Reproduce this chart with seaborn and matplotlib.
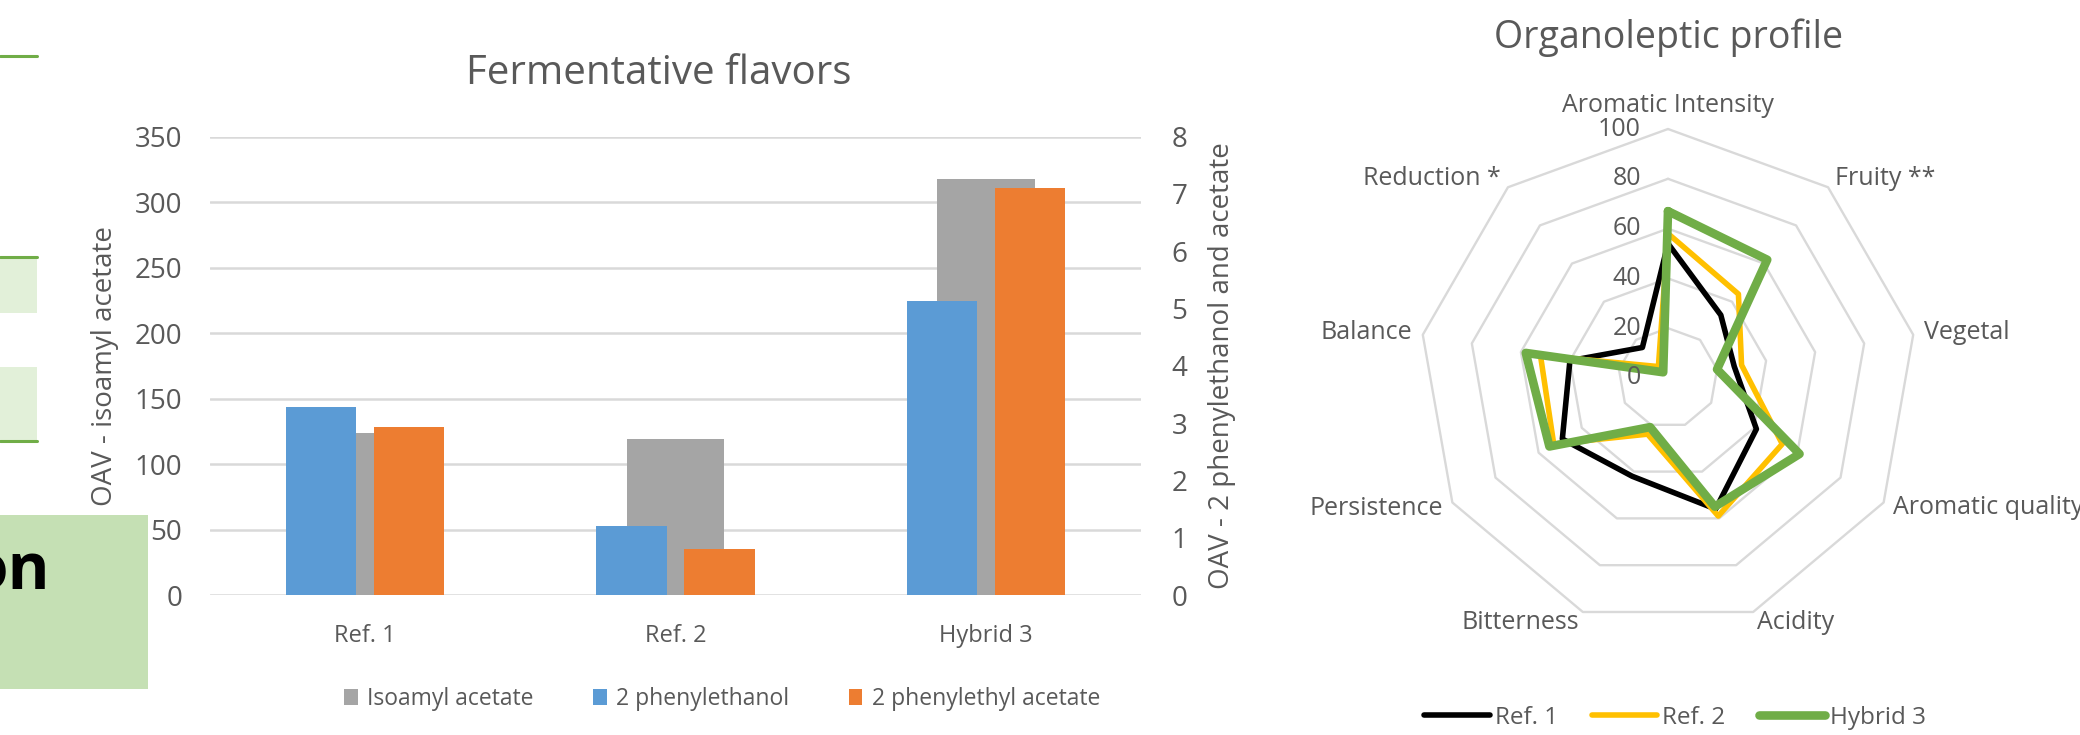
import numpy as np
import pandas as pd
import matplotlib
matplotlib.use("Agg")
import matplotlib.pyplot as plt
import seaborn as sns
from matplotlib.patches import Rectangle, Patch
from matplotlib.lines import Line2D

# ---------------- data ----------------
samples = ["Ref. 1", "Ref. 2", "Hybrid 3"]
isoamyl_acetate = [124, 119, 318]          # left axis
phenylethanol = [3.28, 1.21, 5.13]         # right axis
phenylethyl_acetate = [2.93, 0.80, 7.10]   # right axis
left_ticks = [0, 50, 100, 150, 200, 250, 300, 350]
right_ticks = [0, 1, 2, 3, 4, 5, 6, 7, 8]

attributes = ["Aromatic Intensity", "Fruity **", "Vegetal", "Aromatic quality",
              "Acidity", "Bitterness", "Persistence", "Balance", "Reduction *"]
ref1 = [54, 33, 27, 41, 56, 42, 49, 40, 16]
ref2 = [58, 44, 30, 53, 59, 24, 53, 52, 6]
hybrid3 = [67, 62, 20, 61, 55, 21, 55, 58, 3]
ring_levels = [0, 20, 40, 60, 80, 100]
profile_names = ["Ref. 1", "Ref. 2", "Hybrid 3"]

# ---------------- style ----------------
sns.set_theme(style="white")
plt.rcParams["font.family"] = ["Open Sans", "DejaVu Sans"]
TXT = "#595959"
GRID = "#D9D9D9"
GRAY, BLUE, ORANGE = "#A5A5A5", "#5B9BD5", "#ED7D31"
GREEN = "#70AD47"

W, H = 2080, 735
fig = plt.figure(figsize=(W / 100, H / 100), dpi=100)
fig.patch.set_facecolor("white")


def fx(x):
    return x / W


def fy(y):
    return 1 - y / H


# ---------------- bar chart ----------------
ax1 = fig.add_axes([fx(210), fy(595), (1141 - 210) / W, (595 - 136.7) / H])
sns.barplot(x=samples, y=isoamyl_acetate, color=GRAY, width=0.315, saturation=1,
            errorbar=None, linewidth=0, ax=ax1)
ax1.set_ylim(0, 350)
ax1.set_yticks(left_ticks)
ax1.set_xlim(-0.5, 2.5)
ax1.yaxis.grid(True, color=GRID, lw=1.8)
ax1.xaxis.grid(False)
ax1.set_axisbelow(True)
for s in ax1.spines.values():
    s.set_visible(False)
ax1.tick_params(axis="y", length=0, pad=20, labelsize=20, labelcolor=TXT)
ax1.tick_params(axis="x", length=0, pad=21, labelsize=17, labelcolor=TXT)
ax1.set_xlabel("")
ax1.set_ylabel("OAV - isoamyl acetate", fontsize=20, color=TXT)
ax1.yaxis.label.set_va("center")
ax1.yaxis.set_label_coords((105 - 210) / 931, 0.5)

ax2 = ax1.twinx()
df = pd.DataFrame({
    "sample": samples * 2,
    "compound": ["2 phenylethanol"] * 3 + ["2 phenylethyl acetate"] * 3,
    "oav": phenylethanol + phenylethyl_acetate,
})
sns.barplot(data=df, x="sample", y="oav", hue="compound",
            hue_order=["2 phenylethanol", "2 phenylethyl acetate"],
            palette=[BLUE, ORANGE], width=0.566, gap=0.2, saturation=1,
            errorbar=None, linewidth=0, legend=False, ax=ax2)
ax2.set_ylim(0, 8)
ax2.set_yticks(right_ticks)
ax2.set_xlim(-0.5, 2.5)
ax2.grid(False)
for s in ax2.spines.values():
    s.set_visible(False)
ax2.tick_params(axis="y", length=0, pad=22, labelsize=20, labelcolor=TXT)
ax2.set_ylabel("OAV - 2 phenylethanol and acetate", fontsize=20, color=TXT)
ax2.yaxis.label.set_va("center")
ax2.yaxis.set_label_coords((1222 - 210) / 931, 0.5)

fig.text(fx(659), fy(74), "Fermentative flavors", ha="center", va="center",
         fontsize=29, color=TXT)

bar_handles = [Patch(facecolor=c, edgecolor="none") for c in (GRAY, BLUE, ORANGE)]
fig.legend(bar_handles, ["Isoamyl acetate", "2 phenylethanol", "2 phenylethyl acetate"],
           loc="center", bbox_to_anchor=(fx(722), fy(699)), ncol=3, frameon=False,
           fontsize=16.5, labelcolor=TXT, handlelength=0.6, handleheight=0.75,
           handletextpad=0.4, columnspacing=2.6)

# ---------------- radar chart ----------------
n = len(attributes)
theta = np.linspace(0, 2 * np.pi, n, endpoint=False)
closed = np.append(theta, theta[0])

ax3 = fig.add_axes([fx(1419), fy(627), 498 / W, 498 / H], projection="polar")
ax3.set_theta_offset(np.pi / 2)
ax3.set_theta_direction(-1)
ax3.set_ylim(0, 100)
ax3.axis("off")

for r in ring_levels[1:]:
    ax3.plot(closed, [r] * (n + 1), color=GRID, lw=1.7, clip_on=False, zorder=1)

series_styles = (("#000000", 4.0), ("#FFC000", 4.0), (GREEN, 6.2))
for vals, (col, lw) in zip((ref1, ref2, hybrid3), series_styles):
    ax3.plot(closed, list(vals) + [vals[0]], color=col, lw=lw, clip_on=False,
             solid_joinstyle="round", zorder=3)

for r in ring_levels:
    ax3.annotate(str(r), xy=(0, r), xytext=(-27, 0), textcoords="offset pixels",
                 ha="right", va="center", fontsize=18, color=TXT, annotation_clip=False)

for a, lab in zip(theta, attributes):
    ux, uy = np.sin(a), np.cos(a)
    if abs(ux) < 0.1:
        ha, va = "center", "bottom"
    else:
        ha, va = ("left" if ux > 0 else "right"), "center"
    ax3.annotate(lab, xy=(a, 100), xytext=(11 * ux, 11 * uy), textcoords="offset pixels",
                 ha=ha, va=va, fontsize=18, color=TXT, annotation_clip=False)

fig.text(fx(1669), fy(38), "Organoleptic profile", ha="center", va="center",
         fontsize=27, color=TXT)

radar_handles = [Line2D([], [], color=c, lw=lw) for c, lw in series_styles]
fig.legend(radar_handles, profile_names, loc="center", bbox_to_anchor=(fx(1675), fy(718)),
           ncol=3, frameon=False, fontsize=17.5, labelcolor=TXT, handlelength=2.7,
           handletextpad=0.2, columnspacing=1.4)

# ---------------- slide fragments on the left ----------------
tf = fig.transFigure
fig.add_artist(Rectangle((0, fy(313)), fx(37), (313 - 257) / H, transform=tf,
                         facecolor="#E2F0D9", edgecolor="none", zorder=5))
fig.add_artist(Rectangle((0, fy(441)), fx(37), (441 - 367) / H, transform=tf,
                         facecolor="#E2F0D9", edgecolor="none", zorder=5))
for yy in (56, 257, 441):
    fig.add_artist(Line2D([0, fx(37)], [fy(yy), fy(yy)], color=GREEN, lw=2.2,
                          transform=tf, zorder=6))
fig.add_artist(Rectangle((0, fy(689)), fx(148), (689 - 515) / H, transform=tf,
                         facecolor="#C5E0B4", edgecolor="none", zorder=5))
fig.text(fx(50), fy(590), "on", ha="right", va="baseline", fontsize=46,
         fontweight="bold", color="black", zorder=7)

fig.savefig("out.png", dpi=100, facecolor="white")
